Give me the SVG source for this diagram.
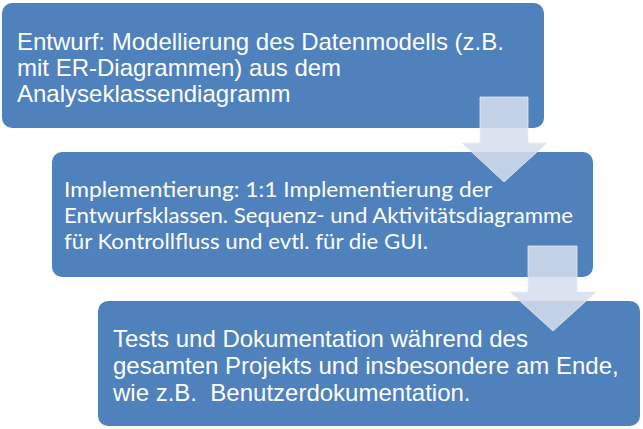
<svg xmlns="http://www.w3.org/2000/svg" width="643" height="429" viewBox="0 0 643 429">
<style>
.box{fill:#4f81bd;}
.arial{font-family:"Liberation Sans",Arial,sans-serif;font-size:24px;fill:#ffffff;}
.cal{font-family:Lato,"Open Sans",sans-serif;font-size:22px;fill:#ffffff;}
.arrow{fill:#d6deed;fill-opacity:0.86;stroke:#e6ebf4;stroke-opacity:0.8;stroke-width:1;}
</style>
<rect width="643" height="429" fill="#ffffff"/>
<g id="node1">
<rect class="box" x="2" y="3" width="542" height="125" rx="10"/>
<text class="arial"><tspan x="17" y="50">Entwurf: Modellierung des Datenmodells (z.B.</tspan><tspan x="17" y="76">mit ER-Diagrammen) aus dem</tspan><tspan x="17" y="102">Analyseklassendiagramm</tspan></text>
</g>
<g id="node2">
<rect class="box" x="52" y="152" width="541" height="125" rx="10"/>
<text class="cal"><tspan x="64" y="197" textLength="428" lengthAdjust="spacingAndGlyphs">Implementierung: 1:1 Implementierung der</tspan><tspan x="64" y="223" textLength="509" lengthAdjust="spacingAndGlyphs">Entwurfsklassen. Sequenz- und Aktivitätsdiagramme</tspan><tspan x="64" y="249" textLength="364" lengthAdjust="spacingAndGlyphs">für Kontrollfluss und evtl. für die GUI.</tspan></text>
</g>
<g id="node3">
<rect class="box" x="98" y="301" width="542" height="125" rx="10"/>
<text class="arial"><tspan x="113" y="347">Tests und Dokumentation während des</tspan><tspan x="113" y="374">gesamten Projekts und insbesondere am Ende,</tspan><tspan x="113" y="401" xml:space="preserve">wie z.B.  Benutzerdokumentation.</tspan></text>
</g>
<g id="connectors">
<path class="arrow" d="M480,97 H528 V143 H547 L504,182 L462,143 H480 Z"/>
<path class="arrow" d="M528,246 H577 V292 H596 L553,331 L510,292 H528 Z"/>
</g>
</svg>
